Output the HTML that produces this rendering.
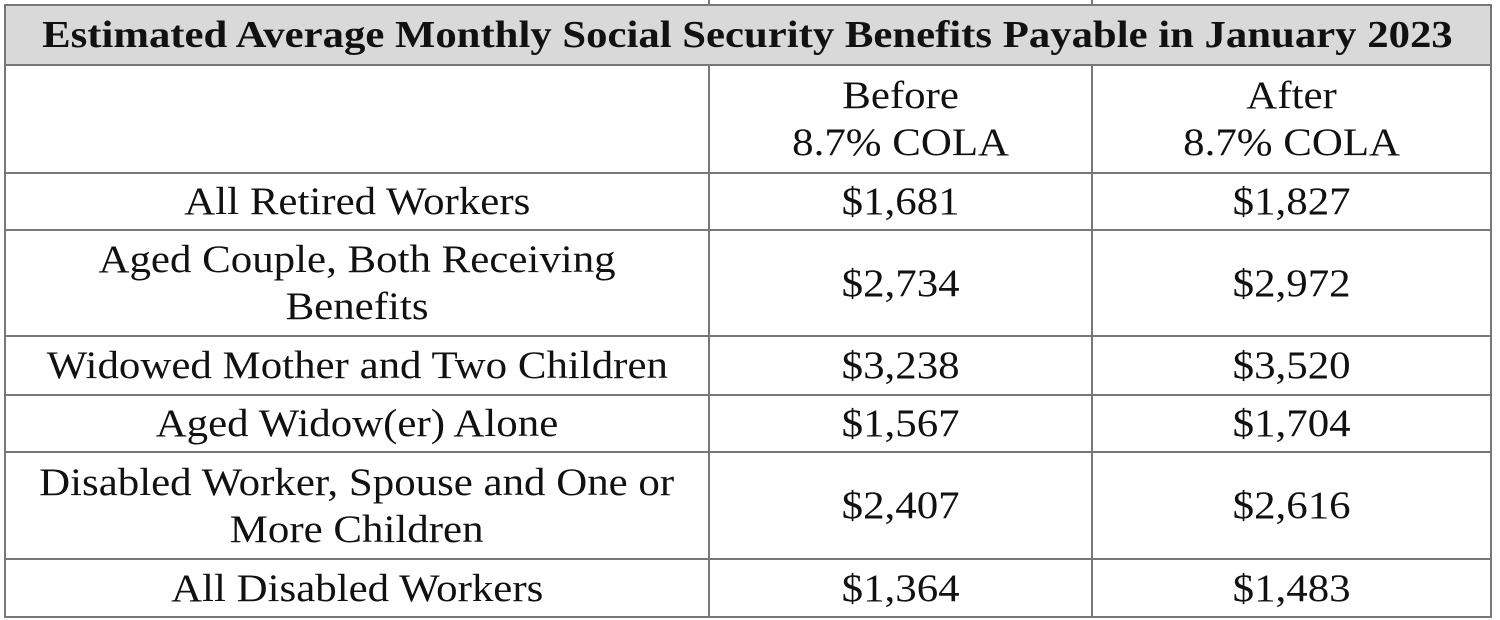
<!DOCTYPE html>
<html><head><meta charset="utf-8"><style>
body{margin:0;width:1500px;height:620px;background:#fff;position:relative;overflow:hidden;font-family:"Liberation Serif",serif;color:#111}
.l{position:absolute;background:#777}
.c{position:absolute;display:flex;align-items:center;justify-content:center;text-align:center;font-size:39px;line-height:47px}
.c span{display:inline-block;transform:scaleX(1.1);white-space:nowrap}
</style></head><body>
<div style="position:absolute;left:5px;top:5px;width:1485px;height:60px;background:#d9d9d9"></div>
<div class="c" style="left:5px;top:5px;width:1485px;height:60px;font-weight:bold;font-size:38.5px"><span style="transform:scaleX(1.11)">Estimated Average Monthly Social Security Benefits Payable in January 2023</span></div>
<div id="grid"></div>
<script>
const rows=[["","Before<br>8.7% COLA","After<br>8.7% COLA"],
["All Retired Workers","$1,681","$1,827"],
["Aged Couple, Both Receiving<br>Benefits","$2,734","$2,972"],
["Widowed Mother and Two Children","$3,238","$3,520"],
["Aged Widow(er) Alone","$1,567","$1,704"],
["Disabled Worker, Spouse and One or<br>More Children","$2,407","$2,616"],
["All Disabled Workers","$1,364","$1,483"]];
const ys=[65,173,230,336,395,452,559,617];
const xs=[4,708,1091,1490];
const g=document.body;
function line(x,y,w,h,name){const d=document.createElement('div');d.className='l';


d.style.cssText=`left:${x}px;top:${y}px;width:${w}px;height:${h}px`;g.appendChild(d);}
line(4,4,1488,2,'top-border');
ys.forEach((y,i)=>line(4,y-1,1488,2,'row-border'));
line(xs[0],4,2,614,'left-border');line(xs[3],4,2,614,'right-border');
line(xs[1],0,2,6,'col-stub');line(xs[2],0,2,6,'col-stub');
line(xs[1],ys[0],2,617-ys[0],'col-border');line(xs[2],ys[0],2,617-ys[0],'col-border');
rows.forEach((r,i)=>r.forEach((t,j)=>{const d=document.createElement('div');d.className='c';


d.style.cssText=`left:${xs[j]+2}px;top:${ys[i]}px;width:${xs[j+1]-xs[j]-2}px;height:${ys[i+1]-ys[i]}px`;
d.innerHTML='<span>'+t+'</span>';g.appendChild(d);}));
</script>
</body></html>
